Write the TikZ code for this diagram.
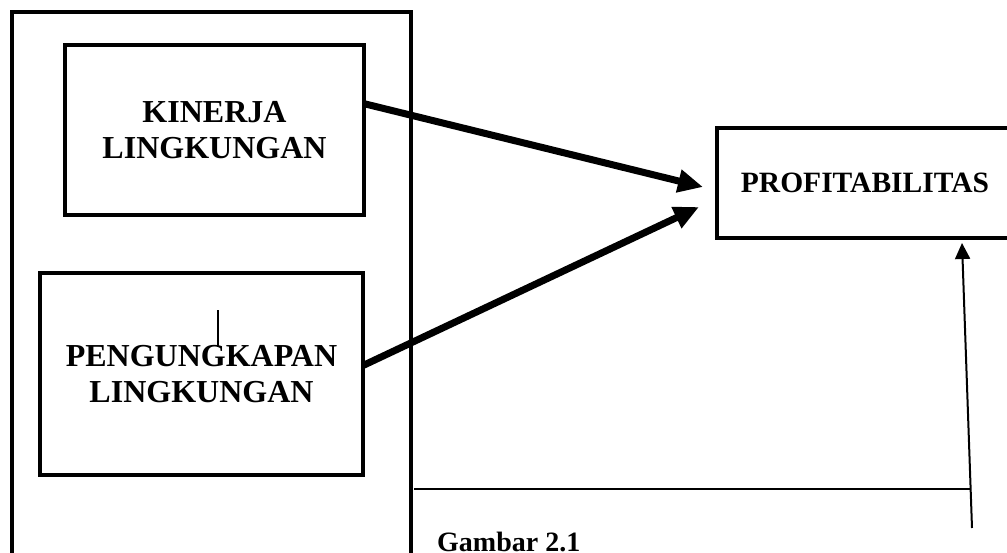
\documentclass[tikz,border=0pt]{standalone}
\usepackage{fontspec}
\setmainfont{Liberation Serif}
\usetikzlibrary{arrows.meta,positioning}

\tikzset{
  box/.style={draw,line width=4pt,inner sep=0pt,outer sep=0pt,
    align=center,font=\bfseries\fontsize{32}{36.5}\selectfont},
  bigarrow/.style={line width=7pt,-{Triangle[length=25pt,width=22pt]}},
  thinarrow/.style={line width=2pt,-{Triangle[length=16pt,width=15pt]}},
}

\begin{document}
\begin{tikzpicture}[x=1pt,y=-1pt,line join=miter]
  \useasboundingbox (0,0) rectangle (1007,552);
  \clip (0,0) rectangle (1007,552);

  % outer frame
  \draw[line width=4pt] (12,12) rectangle (411,570);

  % variables
  \node[box,minimum width=299pt,minimum height=170pt] (kinerja) at (214.5,130)
    {KINERJA\\LINGKUNGAN};
  \node[box,minimum width=323pt,minimum height=202pt] (pengung) at (201.5,374)
    {PENGUNGKAPAN\\LINGKUNGAN};
  \node[box,minimum width=296pt,minimum height=110pt,
    font=\bfseries\fontsize{29.5}{35}\selectfont] (profit) at (865,183)
    {PROFITABILITAS};

  % stray mark inside the lower box
  \draw[line width=1.3pt] (218,310) -- (218,347);

  % arrow ends
  \coordinate (tipA) at ([xshift=-14pt,yshift=-4pt]profit.west);
  \coordinate (tipB) at ([xshift=-18pt,yshift=-24pt]profit.west);
  \coordinate (tipC) at ([xshift=97pt,yshift=-5pt]profit.south);
  \coordinate (foot) at (972,528);
  \coordinate (corner) at (971,489);
  \coordinate (lineend) at (414,489);

  \draw[bigarrow] (kinerja.10) -- (tipA);
  \draw[bigarrow] (pengung.3) -- (tipB);
  \draw[thinarrow] (foot) -- (tipC);
  \draw[line width=2pt] (lineend) -- (corner);

  % caption
  \node[anchor=base west,inner sep=0pt,font=\bfseries\fontsize{28}{34}\selectfont]
    (caption) at (437,551) {Gambar 2.1};
\end{tikzpicture}
\end{document}
